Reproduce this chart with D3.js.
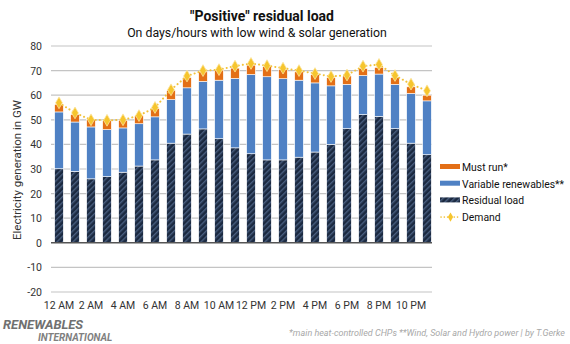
<!DOCTYPE html>
<html>
<head>
<meta charset="utf-8">
<script src="https://cdn.jsdelivr.net/npm/d3@7"></script>
<style>
  body { margin: 0; background: #fff; }
  svg { font-family: Roboto, "Open Sans", sans-serif; }
</style>
</head>
<body>
<div id="chart"></div>
<script>
// hourly values, GW
var hours = ["12 AM","1 AM","2 AM","3 AM","4 AM","5 AM","6 AM","7 AM","8 AM","9 AM","10 AM","11 AM",
             "12 PM","1 PM","2 PM","3 PM","4 PM","5 PM","6 PM","7 PM","8 PM","9 PM","10 PM","11 PM"];
var residual = [30.1, 29.0, 26.0, 26.9, 28.7, 31.2, 33.7, 40.5, 44.2, 46.3, 42.3, 38.6,
                36.2, 33.7, 33.7, 34.8, 36.9, 40.0, 46.4, 52.1, 51.4, 46.4, 40.5, 35.8];
var renewables = [23.1, 20.1, 21.1, 19.1, 18.0, 17.2, 17.5, 17.7, 18.8, 19.3, 23.8, 28.2,
                  32.2, 33.8, 33.0, 31.3, 28.1, 23.8, 18.0, 15.9, 17.2, 18.0, 20.2, 21.9];
var mustRun = [3.1, 3.1, 3.1, 3.8, 3.1, 3.3, 3.4, 3.8, 4.2, 3.9, 4.1, 4.2,
               3.8, 4.1, 3.8, 3.4, 3.4, 3.4, 3.4, 2.9, 2.7, 2.8, 2.7, 2.3];
var demand = [56.9, 52.8, 50.0, 49.8, 50.0, 51.7, 55.0, 62.2, 67.8, 70.0, 70.4, 71.8,
              72.9, 72.0, 71.0, 70.0, 68.8, 67.6, 68.2, 71.8, 72.5, 68.0, 64.5, 61.8];
var yTicks = [-20, -10, 0, 10, 20, 30, 40, 50, 60, 70, 80];

var W = 570, H = 344;
var svg = d3.select("#chart").append("svg")
  .attr("width", W).attr("height", H);

// hatch for the residual load bars
var defs = svg.append("defs");
var pat = defs.append("pattern")
  .attr("id", "hatch")
  .attr("patternUnits", "userSpaceOnUse")
  .attr("width", 4).attr("height", 4)
  .attr("patternTransform", "rotate(45)");
pat.append("rect").attr("width", 4).attr("height", 4).attr("fill", "#1b2940");
pat.append("rect").attr("x", 0).attr("width", 1.4).attr("height", 4).attr("fill", "#4a5f80");

var x = d3.scaleBand()
  .domain(hours)
  .range([51, 435])
  .paddingInner(0.46)
  .paddingOuter(0.23);

var y = d3.scaleLinear()
  .domain([-20, 80])
  .range([292, 46]);

// gridlines
svg.append("g").selectAll("line")
  .data(yTicks.filter(function(d){ return d !== 0; }))
  .enter().append("line")
    .attr("x1", 51).attr("x2", 432)
    .attr("y1", function(d){ return y(d); })
    .attr("y2", function(d){ return y(d); })
    .attr("stroke", "#c4c4c4")
    .attr("stroke-width", 1.2);

// y tick labels
svg.append("g").selectAll("text")
  .data(yTicks)
  .enter().append("text")
    .attr("x", 42)
    .attr("y", function(d){ return y(d) + 4; })
    .attr("text-anchor", "end")
    .attr("font-size", 10.5)
    .attr("fill", "#333")
    .text(function(d){ return d; });

// stacked bars
var stacks = hours.map(function(h, i) {
  return { h: h, segs: [
    { y0: 0, y1: residual[i], fill: "url(#hatch)" },
    { y0: residual[i], y1: residual[i] + renewables[i], fill: "#4f81c4" },
    { y0: residual[i] + renewables[i], y1: residual[i] + renewables[i] + mustRun[i], fill: "#e36f16" }
  ]};
});

var bars = svg.append("g").selectAll("g")
  .data(stacks)
  .enter().append("g")
    .attr("transform", function(d){ return "translate(" + x(d.h) + ",0)"; });

bars.selectAll("rect")
  .data(function(d){ return d.segs; })
  .enter().append("rect")
    .attr("x", 0)
    .attr("width", x.bandwidth())
    .attr("y", function(s){ return y(s.y1); })
    .attr("height", function(s){ return y(s.y0) - y(s.y1); })
    .attr("fill", function(s){ return s.fill; })
    .attr("stroke", "#fff")
    .attr("stroke-width", 0.6);

// zero line
svg.append("line")
  .attr("x1", 51).attr("x2", 432)
  .attr("y1", y(0)).attr("y2", y(0))
  .attr("stroke", "#555")
  .attr("stroke-width", 1.5);

// x labels, every second hour
svg.append("g").selectAll("text")
  .data(hours.filter(function(d, i){ return i % 2 === 0; }))
  .enter().append("text")
    .attr("x", function(d){ return x(d) + x.bandwidth() / 2; })
    .attr("y", 309)
    .attr("text-anchor", "middle")
    .attr("font-size", 10.5)
    .attr("fill", "#333")
    .text(function(d){ return d; });

// demand line
var line = d3.line()
  .x(function(d, i){ return x(hours[i]) + x.bandwidth() / 2; })
  .y(function(d){ return y(d); });

svg.append("path")
  .datum(demand)
  .attr("d", line)
  .attr("fill", "none")
  .attr("stroke", "#f2c23a")
  .attr("stroke-width", 2)
  .attr("stroke-linecap", "round")
  .attr("stroke-dasharray", "0.1,4");

var diamond = d3.symbol().type(d3.symbolDiamond).size(40);
svg.append("g").selectAll("path")
  .data(demand)
  .enter().append("path")
    .attr("d", diamond)
    .attr("transform", function(d, i){
      return "translate(" + (x(hours[i]) + x.bandwidth() / 2) + "," + y(d) + ")";
    })
    .attr("fill", "#f6c52e")
    .attr("stroke", "#fbe39a")
    .attr("stroke-width", 0.8);

// y axis title
svg.append("text")
  .attr("transform", "translate(21,170) rotate(-90)")
  .attr("text-anchor", "middle")
  .attr("font-size", 11.5)
  .attr("fill", "#333")
  .text("Electricity generation in GW");

// titles
svg.append("text")
  .attr("x", 262).attr("y", 21)
  .attr("text-anchor", "middle")
  .attr("font-size", 14)
  .attr("font-weight", "bold")
  .attr("fill", "#111")
  .text("\"Positive\" residual load");

svg.append("text")
  .attr("x", 257).attr("y", 37)
  .attr("text-anchor", "middle")
  .attr("font-size", 12.3)
  .attr("fill", "#111")
  .text("On days/hours with low wind & solar generation");

// legend
var legendItems = [
  { label: "Must run*", fill: "#e36f16" },
  { label: "Variable renewables**", fill: "#4f81c4" },
  { label: "Residual load", fill: "url(#hatch)" },
  { label: "Demand", fill: null }
];
var legend = svg.append("g").selectAll("g")
  .data(legendItems)
  .enter().append("g")
    .attr("transform", function(d, i){ return "translate(440," + (167 + i * 16.7) + ")"; });

legend.filter(function(d){ return d.fill; })
  .append("rect")
    .attr("x", 0).attr("y", -3)
    .attr("width", 20).attr("height", 5)
    .attr("fill", function(d){ return d.fill; });

var dem = legend.filter(function(d){ return !d.fill; });
dem.append("line")
  .attr("x1", 1).attr("x2", 20)
  .attr("y1", 0).attr("y2", 0)
  .attr("stroke", "#f2c23a")
  .attr("stroke-width", 1.6)
  .attr("stroke-linecap", "round")
  .attr("stroke-dasharray", "0.1,3.2");
dem.append("path")
  .attr("d", d3.symbol().type(d3.symbolDiamond).size(24))
  .attr("transform", "translate(10.5,0)")
  .attr("fill", "#f6c52e");

legend.append("text")
  .attr("x", 22).attr("y", 4)
  .attr("font-size", 10.4)
  .attr("fill", "#111")
  .text(function(d){ return d.label; });

// footer
svg.append("text")
  .attr("x", 3).attr("y", 329)
  .attr("font-size", 13)
  .attr("font-weight", "bold")
  .attr("font-style", "italic")
  .attr("fill", "#707070")
  .text("RENEWABLES");
svg.append("text")
  .attr("x", 38).attr("y", 341)
  .attr("font-size", 10)
  .attr("font-weight", "bold")
  .attr("font-style", "italic")
  .attr("fill", "#808080")
  .text("INTERNATIONAL");

svg.append("text")
  .attr("x", 565).attr("y", 336)
  .attr("text-anchor", "end")
  .attr("font-size", 9)
  .attr("font-style", "italic")
  .attr("fill", "#a8a8a8")
  .text("*main heat-controlled CHPs **Wind, Solar and Hydro power  |  by T.Gerke");
</script>
</body>
</html>
